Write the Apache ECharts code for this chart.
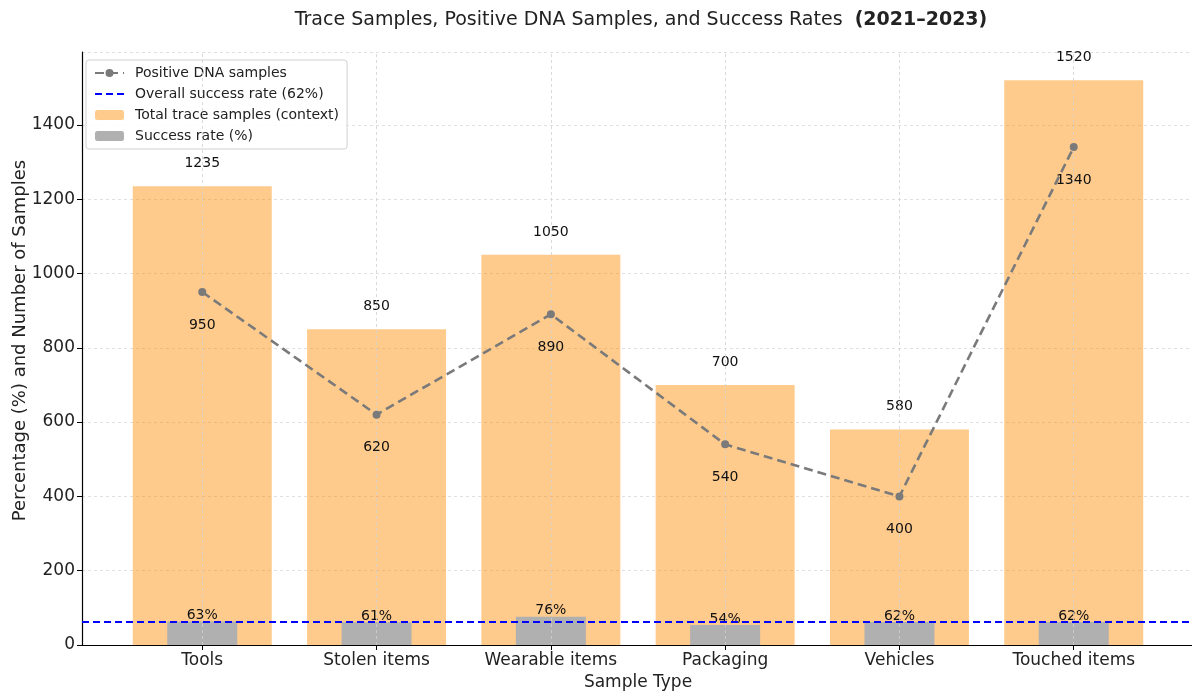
<!DOCTYPE html>
<html>
<head>
<meta charset="utf-8">
<script src="https://cdn.jsdelivr.net/npm/echarts@6/dist/echarts.min.js"></script>
<style>
  html, body { margin: 0; padding: 0; background: #fff; }
  #chart { width: 1192px; height: 693px; }
</style>
</head>
<body>
<div id="chart"></div>
<script>
const categories = ['Tools', 'Stolen items', 'Wearable items', 'Packaging', 'Vehicles', 'Touched items']
const totalSamples = [1235, 850, 1050, 700, 580, 1520]
const positiveSamples = [950, 620, 890, 540, 400, 1340]
const successRate = [63, 61, 76, 54, 62, 62]
const overallRate = 62
const yTicks = [0, 200, 400, 600, 800, 1000, 1200, 1400]

// x 轴范围（和 matplotlib 的边距一致）
const xMin = -0.69
const xMax = 5.69
const catIdx = categories.map((c, i) => i)

const font = 'DejaVu Sans'

const xAxisBase = {
  type: 'value',
  min: xMin,
  max: xMax,
  axisLine: { show: true, onZero: false, lineStyle: { color: '#000', width: 1.2 } },
  axisTick: { show: true, customValues: catIdx, length: 5, lineStyle: { color: '#000' } },
  axisLabel: {
    customValues: catIdx,
    formatter: v => categories[Math.round(v)] || '',
    color: '#222',
    fontFamily: font,
    fontSize: 17,
    margin: 7
  },
  splitLine: { show: false }
}

const chart = echarts.init(document.getElementById('chart'))
const option = {
  animation: false,
  textStyle: { fontFamily: font },
  title: {
    text: 'Trace Samples, Positive DNA Samples, and Success Rates  {b|(2021–2023)}',
    left: 636,
    textAlign: 'center',
    top: 6,
    textStyle: {
      fontFamily: font,
      fontSize: 19,
      fontWeight: 'normal',
      color: '#222',
      rich: { b: { fontFamily: font, fontSize: 19, fontWeight: 'bold', color: '#222' } }
    }
  },
  legend: {
    orient: 'vertical',
    left: 86,
    top: 60,
    itemWidth: 29,
    itemHeight: 10,
    itemGap: 7,
    padding: [6, 8, 6, 8],
    borderColor: '#d0d0d0',
    borderWidth: 1,
    borderRadius: 3,
    backgroundColor: 'rgba(255,255,255,0.85)',
    textStyle: { fontFamily: font, fontSize: 14, color: '#222', padding: [0, 0, 0, 6] },
    data: [
      'Positive DNA samples',
      { name: 'Overall success rate (62%)', itemStyle: { opacity: 0 } },
      'Total trace samples (context)',
      'Success rate (%)'
    ]
  },
  grid: { left: 82, right: -2, top: 52, bottom: 48, outerBoundsMode: 'none', containLabel: false },
  xAxis: [
    Object.assign({}, xAxisBase, {
      name: 'Sample Type',
      nameLocation: 'middle',
      nameGap: 26,
      nameTextStyle: { fontFamily: font, fontSize: 17, color: '#222' }
    }),
    Object.assign({}, xAxisBase, { show: false })
  ],
  yAxis: {
    type: 'value',
    min: 0,
    max: 1596,
    interval: 200,
    name: 'Percentage (%) and Number of Samples',
    nameLocation: 'middle',
    nameGap: 53,
    nameMoveOverlap: false,
    nameTextStyle: { fontFamily: font, fontSize: 18, color: '#222', padding: [0, 0, 0, 16] },
    axisLine: { show: true, onZero: false, lineStyle: { color: '#000', width: 1.2 } },
    axisTick: { show: true, length: 5, lineStyle: { color: '#000' } },
    axisLabel: {
      showMaxLabel: false,
      color: '#222',
      fontFamily: font,
      fontSize: 17,
      margin: 7,
      formatter: v => (yTicks.indexOf(v) >= 0 ? String(v) : '')
    },
    splitLine: { show: true, lineStyle: { color: '#d9d9d9', type: [3, 3], width: 0.8 } }
  },
  series: [
    {
      name: 'Total trace samples (context)',
      type: 'bar',
      xAxisIndex: 0,
      barWidth: 139,
      itemStyle: { color: 'rgba(255,140,0,0.45)' },
      label: {
        show: true,
        position: 'top',
        distance: 16,
        color: '#111',
        fontFamily: font,
        fontSize: 14,
        formatter: p => String(p.value[1])
      },
      data: totalSamples.map((v, i) => [i, v]),
      // 竖向网格线
      markLine: {
        silent: true,
        symbol: 'none',
        label: { show: false },
        lineStyle: { color: '#d0d0d0', type: [3, 3], width: 0.8 },
        data: catIdx.map(i => ({ xAxis: i }))
      },
      z: 2
    },
    {
      name: 'Success rate (%)',
      type: 'bar',
      xAxisIndex: 1,
      barWidth: 70,
      itemStyle: { color: '#b0b0b0' },
      label: {
        show: true,
        position: 'top',
        distance: -1,
        color: '#111',
        fontFamily: font,
        fontSize: 14,
        formatter: p => p.value[1] + '%'
      },
      data: successRate.map((v, i) => [i, v]),
      z: 3
    },
    {
      name: 'Overall success rate (62%)',
      type: 'line',
      symbol: 'none',
      lineStyle: { color: '#0000ff', width: 2, type: [7, 4] },
      itemStyle: { color: '#0000ff' },
      data: [[xMin, overallRate], [xMax, overallRate]],
      z: 4
    },
    {
      name: 'Positive DNA samples',
      type: 'line',
      symbol: 'circle',
      symbolSize: 8,
      lineStyle: { color: '#7a7a7a', width: 2.6, type: [9, 5] },
      itemStyle: { color: '#7a7a7a' },
      label: {
        show: true,
        position: 'bottom',
        distance: 22,
        color: '#111',
        fontFamily: font,
        fontSize: 14,
        formatter: p => String(p.value[1])
      },
      data: positiveSamples.map((v, i) => [i, v]),
      z: 5
    }
  ]
}
chart.setOption(option)
</script>
</body>
</html>
